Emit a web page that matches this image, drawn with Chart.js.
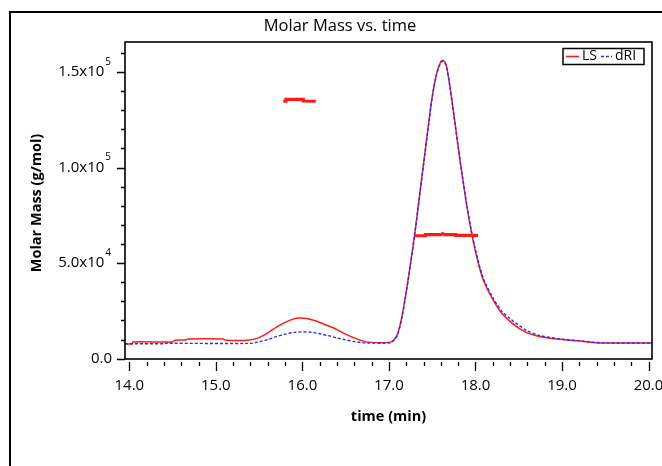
<!DOCTYPE html>
<html><head><meta charset="utf-8">
<script src="https://cdn.jsdelivr.net/npm/chart.js@4.4.1/dist/chart.umd.min.js"></script>
<style>html,body{margin:0;padding:0;background:#fff;overflow:hidden}</style>
</head><body>
<canvas id="c" width="662" height="466"></canvas>
<script>
const chartTitle = 'Molar Mass vs. time';
const xAxisTitle = 'time (min)';
const yAxisTitle = 'Molar Mass (g/mol)';
const seriesNames = ['LS', 'dRI'];

const lsTimes  = [13.95, 14.03, 14.04, 14.50, 14.53, 14.65, 14.68, 15.08, 15.12, 15.37, 15.50, 15.60, 15.70, 15.80, 15.90, 15.97, 16.05, 16.15, 16.25, 16.40, 16.50, 16.60, 16.67, 16.78, 17.00, 17.05, 17.10, 17.15, 17.20, 17.25, 17.30, 17.35, 17.40, 17.45, 17.50, 17.55, 17.60, 17.63, 17.66, 17.70, 17.75, 17.80, 17.85, 17.90, 17.95, 18.00, 18.05, 18.10, 18.20, 18.30, 18.40, 18.50, 18.60, 18.75, 19.00, 19.25, 19.45, 20.05];
const lsValues = [7700, 7700, 8700, 8700, 9600, 9800, 10300, 10300, 9600, 9600, 11000, 13500, 16500, 19000, 20800, 21300, 21000, 19800, 18000, 15200, 12800, 10800, 9600, 8500, 8500, 9500, 13000, 22000, 35000, 50000, 66000, 84000, 102000, 120000, 137000, 149000, 155500, 156000, 154000, 144000, 128000, 111000, 95000, 80000, 67000, 56000, 47000, 40000, 31000, 24000, 19500, 16000, 13500, 11500, 10000, 9000, 8200, 8200];

const driTimes  = [13.95, 14.41, 14.42, 15.40, 15.50, 15.60, 15.70, 15.80, 15.90, 16.00, 16.10, 16.20, 16.30, 16.40, 16.50, 16.60, 16.67, 16.75, 17.00, 17.05, 17.10, 17.15, 17.20, 17.25, 17.30, 17.35, 17.40, 17.45, 17.50, 17.55, 17.60, 17.63, 17.66, 17.70, 17.75, 17.80, 17.85, 17.90, 17.95, 18.00, 18.05, 18.10, 18.20, 18.30, 18.40, 18.50, 18.60, 18.75, 19.00, 19.25, 19.45, 20.05];
const driValues = [7800, 7800, 8000, 8000, 8800, 10000, 11500, 12800, 13700, 14000, 13800, 13000, 12000, 10800, 9800, 8900, 8500, 8200, 8200, 9200, 12500, 21500, 34500, 49500, 65500, 83500, 101500, 119500, 136500, 148500, 155000, 155500, 153500, 143500, 127500, 110500, 95000, 80500, 67500, 57000, 48000, 41000, 32000, 25000, 21000, 17500, 14500, 12000, 10200, 9100, 8300, 8200];

const mmTimes  = [15.78, 15.81, 15.81, 16.01, 16.01, 16.155, 16.60, 17.30, 17.42, 17.42, 17.60, 17.62, 17.64, 17.77, 17.77, 18.03];
const mmValues = [134800, 134800, 135700, 135700, 134800, 134700, null, 64300, 64300, 64900, 64900, 65400, 64900, 64900, 64500, 64500];

const xTickValues = [14, 15, 16, 17, 18, 19, 20];
const xTickLabels = ['14.0', '15.0', '16.0', '17.0', '18.0', '19.0', '20.0'];
const yTickValues = [0, 50000, 100000, 150000];
const yTickMantissa = ['0.0', '5.0x10', '1.0x10', '1.5x10'];
const yTickExponent = ['', '4', '5', '5'];

const FONT = '"Open Sans", "Noto Sans", sans-serif';
const RED = '#ff1a1a';
const BLUE = '#2a2aff';

const pts = (xs, ys) => xs.map((x, i) => ({x: x, y: ys[i]}));

const decor = {
  id: 'decor',
  afterDraw(chart) {
    const ctx = chart.ctx, a = chart.chartArea;
    const xs = chart.scales.x, ys = chart.scales.y;
    ctx.save();
    // outer frame
    ctx.strokeStyle = '#000'; ctx.lineWidth = 2;
    ctx.strokeRect(10, 12, 700, 500);
    // title
    ctx.fillStyle = '#000';
    ctx.font = '16.5px ' + FONT;
    ctx.textAlign = 'center'; ctx.textBaseline = 'middle';
    ctx.fillText(chartTitle, 340, 26);
    // plot border
    ctx.lineWidth = 1.6;
    ctx.strokeRect(a.left, a.top, a.right - a.left, a.bottom - a.top);
    // x ticks
    ctx.lineWidth = 1.3;
    ctx.beginPath();
    for (let v = 14; v <= 20.001; v += 0.2) {
      const px = Math.round(xs.getPixelForValue(v)) + 0.5;
      const major = Math.abs(v - Math.round(v)) < 1e-6;
      ctx.moveTo(px, a.bottom + 3);
      ctx.lineTo(px, a.bottom + (major ? 12 : 7));
    }
    ctx.stroke();
    // y ticks
    ctx.beginPath();
    for (let v = 0; v <= 160000; v += 10000) {
      const py = Math.round(ys.getPixelForValue(v)) + 0.5;
      const major = v % 50000 === 0;
      ctx.moveTo(a.left, py);
      ctx.lineTo(a.left - (major ? 8 : 4), py);
    }
    ctx.stroke();
    // x labels
    ctx.font = '15px ' + FONT;
    ctx.textAlign = 'center'; ctx.textBaseline = 'middle';
    xTickValues.forEach((v, i) => ctx.fillText(xTickLabels[i], xs.getPixelForValue(v), a.bottom + 27));
    // y labels
    yTickValues.forEach((v, i) => {
      const py = ys.getPixelForValue(v);
      const right = a.left - 14;
      ctx.textBaseline = 'middle';
      if (yTickExponent[i]) {
        ctx.font = '10px ' + FONT;
        ctx.textAlign = 'right';
        ctx.fillText(yTickExponent[i], right, py - 10);
        const ew = ctx.measureText(yTickExponent[i]).width;
        ctx.font = '15px ' + FONT;
        ctx.fillText(yTickMantissa[i], right - ew - 1, py);
      } else {
        ctx.font = '15px ' + FONT;
        ctx.textAlign = 'right';
        ctx.fillText(yTickMantissa[i], right + 1, py);
      }
    });
    // axis titles
    ctx.font = 'bold 14.5px ' + FONT;
    ctx.textAlign = 'center'; ctx.textBaseline = 'middle';
    ctx.fillText(xAxisTitle, (a.left + a.right) / 2, 417);
    ctx.save();
    ctx.translate(37, 203);
    ctx.rotate(-Math.PI / 2);
    ctx.fillText(yAxisTitle, 0, 0);
    ctx.restore();
    // legend
    const lx = 563, ly = 48.5, lw = 81, lh = 16;
    ctx.fillStyle = '#fff';
    ctx.fillRect(lx, ly, lw, lh);
    ctx.strokeStyle = '#000'; ctx.lineWidth = 1.5;
    ctx.strokeRect(lx, ly, lw, lh);
    const cy = ly + lh / 2;
    ctx.lineWidth = 1.6;
    ctx.strokeStyle = RED;
    ctx.beginPath(); ctx.moveTo(566, cy); ctx.lineTo(579, cy); ctx.stroke();
    ctx.strokeStyle = BLUE; ctx.setLineDash([3, 2]);
    ctx.beginPath(); ctx.moveTo(601, cy); ctx.lineTo(612, cy); ctx.stroke();
    ctx.setLineDash([]);
    ctx.fillStyle = '#000';
    ctx.font = '14px ' + FONT;
    ctx.textAlign = 'left'; ctx.textBaseline = 'middle';
    ctx.fillText(seriesNames[0], 582, cy);
    ctx.fillText(seriesNames[1], 615, cy);
    ctx.restore();
  }
};

new Chart(document.getElementById('c'), {
  type: 'line',
  data: {
    datasets: [
      { label: 'Molar mass', data: pts(mmTimes, mmValues), borderColor: RED, borderWidth: 3.2, pointRadius: 0, tension: 0, spanGaps: false, order: 0 },
      { label: seriesNames[1], data: pts(driTimes, driValues), borderColor: BLUE, borderWidth: 1.4, borderDash: [3, 2], pointRadius: 0, tension: 0.3, order: 1 },
      { label: seriesNames[0], data: pts(lsTimes, lsValues), borderColor: RED, borderWidth: 1.5, pointRadius: 0, tension: 0.3, order: 2 }
    ]
  },
  options: {
    responsive: false,
    animation: false,
    devicePixelRatio: 1,
    layout: { padding: { left: 125, top: 42, right: 10, bottom: 107 } },
    plugins: { legend: { display: false }, title: { display: false }, tooltip: { enabled: false } },
    scales: {
      x: { type: 'linear', min: 13.95, max: 20.04, display: false },
      y: { type: 'linear', min: -200, max: 165700, display: false }
    }
  },
  plugins: [decor]
});
</script>
</body></html>
